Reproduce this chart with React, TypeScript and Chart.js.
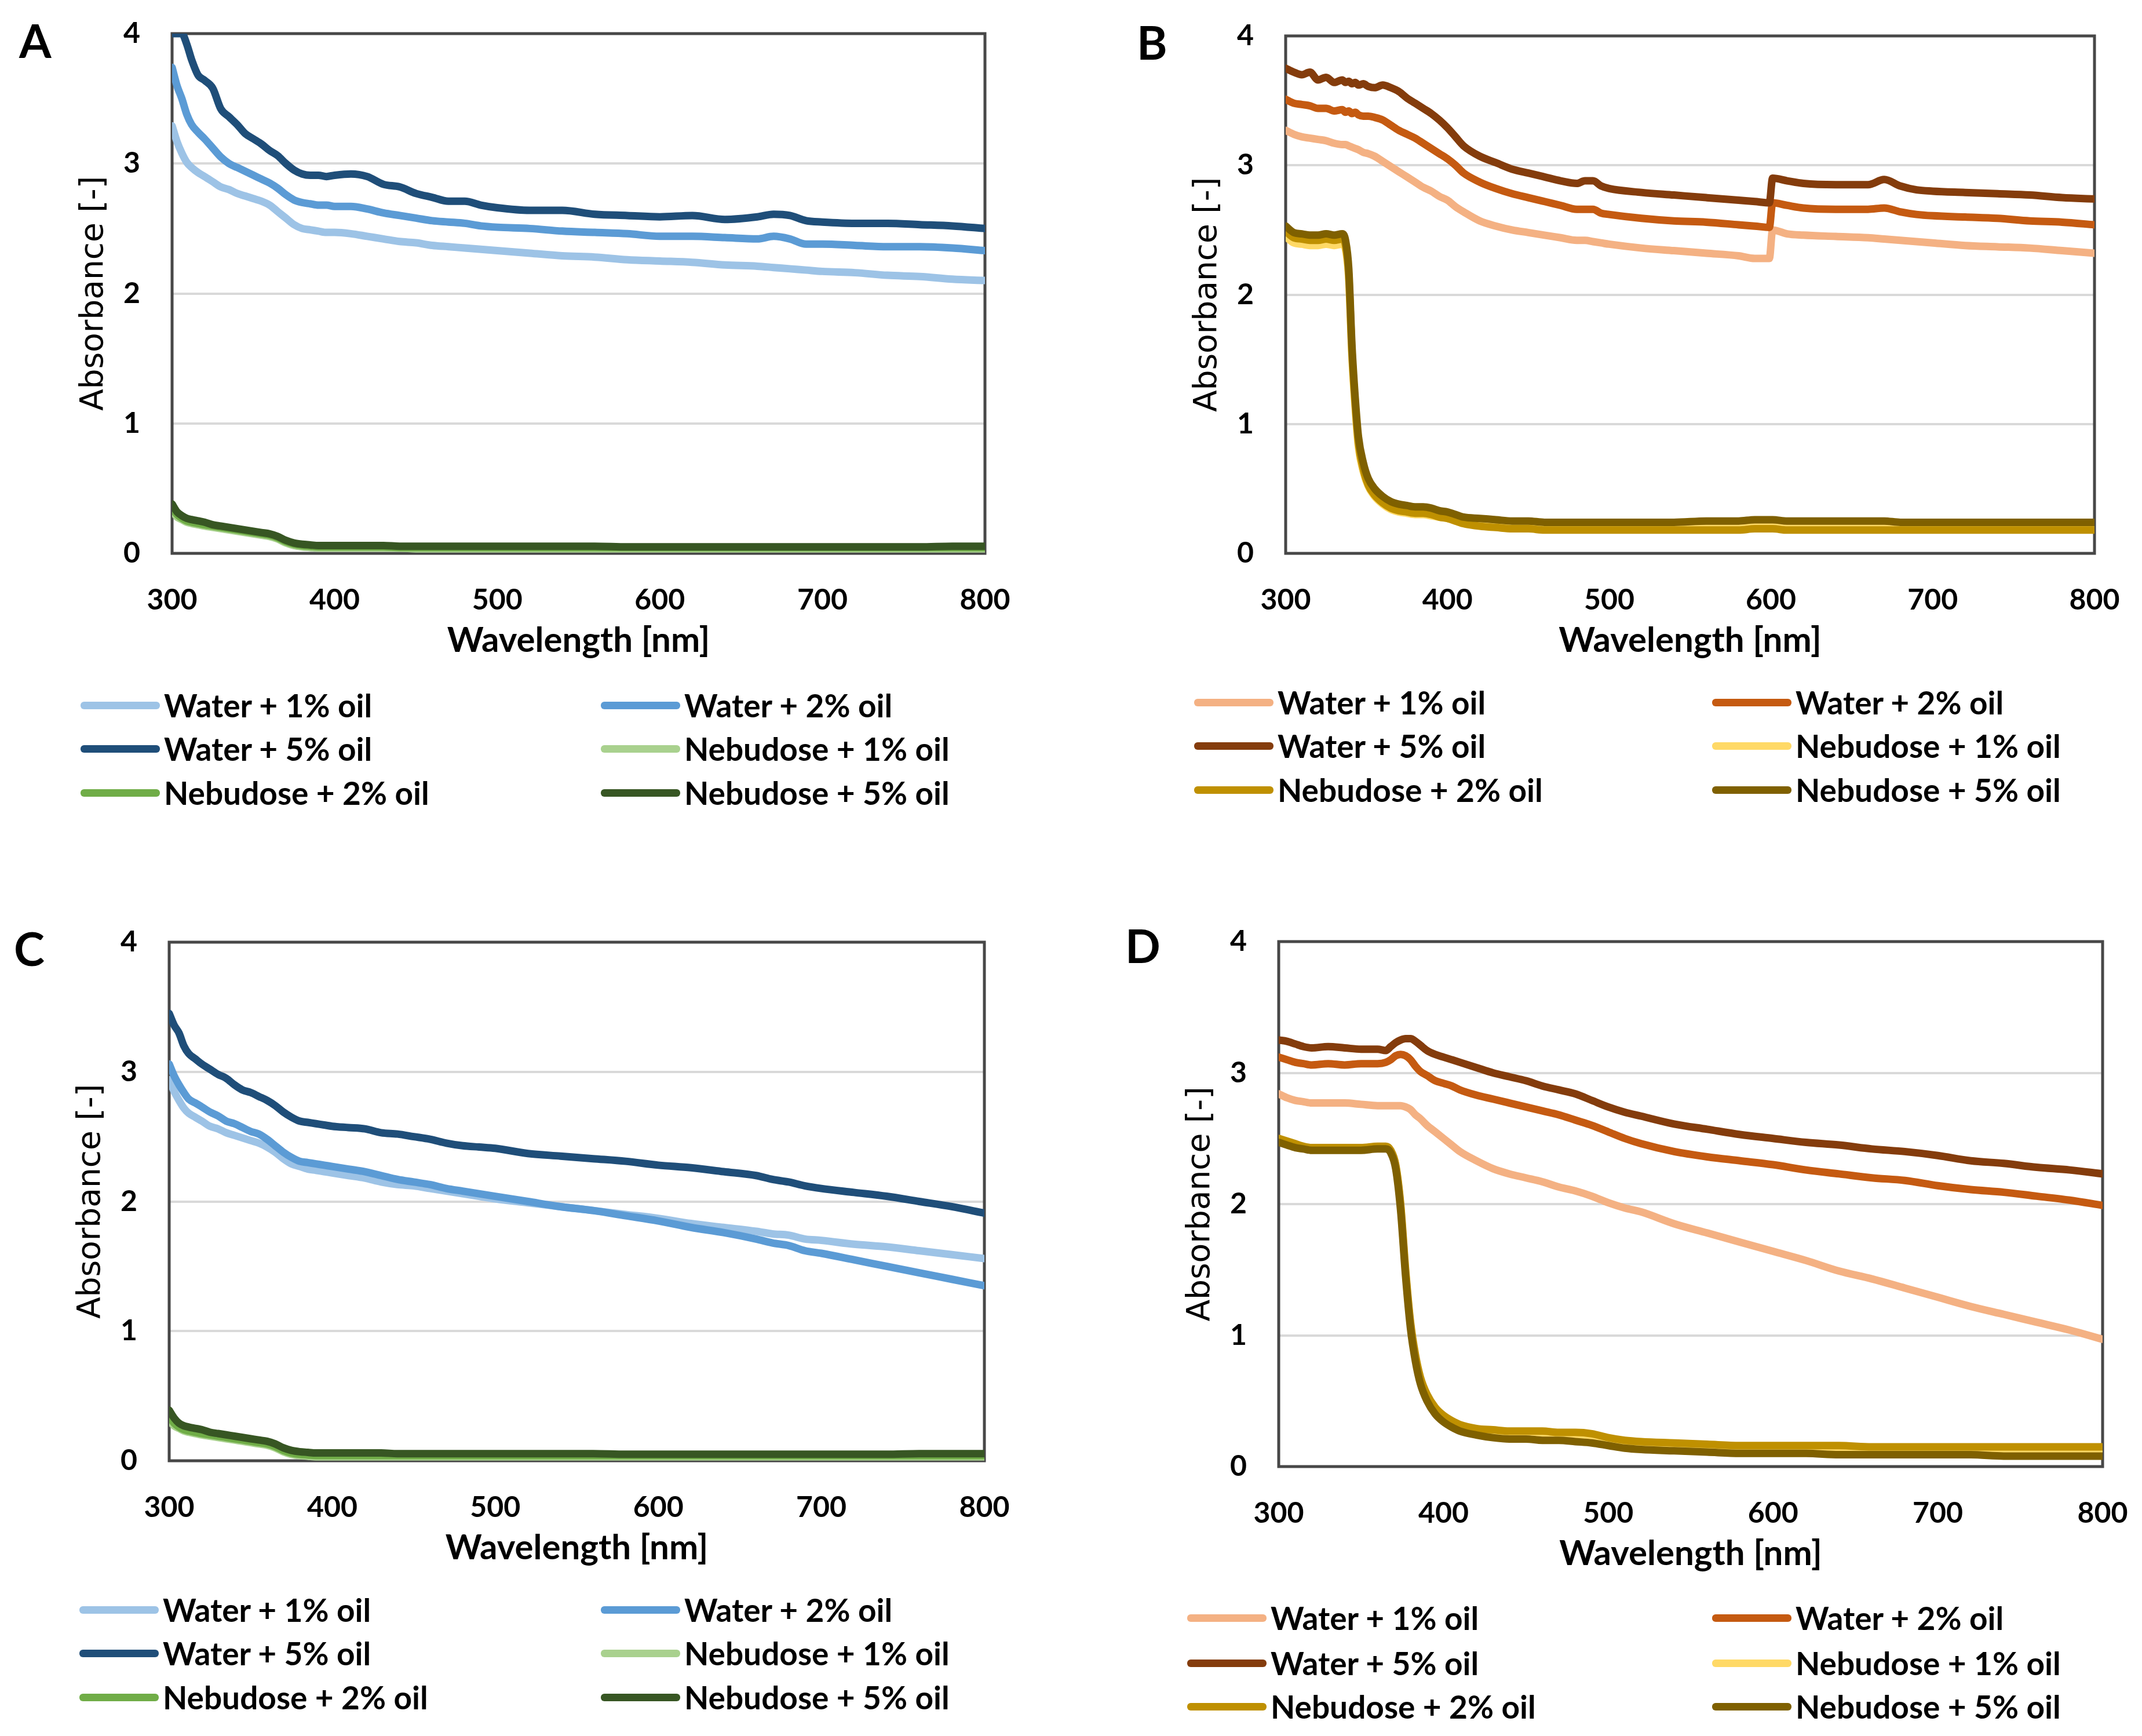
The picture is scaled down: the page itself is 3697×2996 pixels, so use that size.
import React, { useEffect, useRef } from "react";
import { Chart, registerables } from "chart.js";
Chart.register(...registerables);

// ---------- shared text ----------
const SERIES_LABELS = [
  "Water + 1% oil",
  "Water + 2% oil",
  "Water + 5% oil",
  "Nebudose + 1% oil",
  "Nebudose + 2% oil",
  "Nebudose + 5% oil",
];
const X_TITLE = "Wavelength [nm]";
const Y_TITLE = "Absorbance [-]";
const X_MIN = 300;
const X_MAX = 800;
const X_STEP = 100;
const Y_MIN = 0;
const Y_MAX = 4;
const Y_STEP = 1;

const BLUE_GREEN = ["#9dc3e6", "#5b9bd5", "#1f4e79", "#a9d18e", "#70ad47", "#375623"];
const ORANGE_GOLD = ["#f4b183", "#c55a11", "#843c0c", "#ffd966", "#bf9000", "#7f6000"];

// ---------- panels A & C wavelengths ----------
const WL_AC = [300, 303, 306, 309, 312, 316, 320, 325, 330, 335, 340, 345, 350, 355, 360, 365, 370, 375, 380, 385, 390, 395, 400, 410, 420, 430, 440, 450, 460, 470, 480, 490, 500, 520, 540, 560, 580, 600, 620, 640, 660, 670, 680, 690, 700, 720, 740, 760, 780, 800];

// Panel A
const A_WATER_1 = [3.29, 3.17, 3.08, 3.01, 2.97, 2.93, 2.9, 2.86, 2.82, 2.8, 2.77, 2.75, 2.73, 2.71, 2.68, 2.63, 2.58, 2.53, 2.5, 2.49, 2.48, 2.47, 2.47, 2.46, 2.44, 2.42, 2.4, 2.39, 2.37, 2.36, 2.35, 2.34, 2.33, 2.31, 2.29, 2.28, 2.26, 2.25, 2.24, 2.22, 2.21, 2.2, 2.19, 2.18, 2.17, 2.16, 2.14, 2.13, 2.11, 2.1];
const A_WATER_2 = [3.74, 3.6, 3.5, 3.38, 3.3, 3.24, 3.19, 3.12, 3.05, 3.0, 2.97, 2.94, 2.91, 2.88, 2.85, 2.81, 2.76, 2.72, 2.7, 2.69, 2.68, 2.68, 2.67, 2.67, 2.65, 2.62, 2.6, 2.58, 2.56, 2.55, 2.54, 2.52, 2.51, 2.5, 2.48, 2.47, 2.46, 2.44, 2.44, 2.43, 2.42, 2.44, 2.42, 2.38, 2.38, 2.37, 2.36, 2.36, 2.35, 2.33];
const A_WATER_5 = [4.0, 4.0, 4.0, 3.92, 3.8, 3.68, 3.64, 3.58, 3.42, 3.36, 3.3, 3.23, 3.19, 3.15, 3.1, 3.06, 3.0, 2.95, 2.92, 2.91, 2.91, 2.9, 2.91, 2.92, 2.9, 2.84, 2.82, 2.77, 2.74, 2.71, 2.71, 2.68, 2.66, 2.64, 2.64, 2.61, 2.6, 2.59, 2.6, 2.57, 2.59, 2.61, 2.6, 2.56, 2.55, 2.54, 2.54, 2.53, 2.52, 2.5];
const A_NEB_1 = [0.33, 0.28, 0.26, 0.24, 0.23, 0.22, 0.21, 0.2, 0.19, 0.18, 0.17, 0.16, 0.15, 0.14, 0.13, 0.11, 0.08, 0.06, 0.05, 0.045, 0.04, 0.04, 0.04, 0.04, 0.04, 0.04, 0.04, 0.035, 0.035, 0.035, 0.035, 0.035, 0.035, 0.035, 0.035, 0.035, 0.035, 0.035, 0.035, 0.035, 0.035, 0.035, 0.035, 0.035, 0.035, 0.035, 0.035, 0.035, 0.035, 0.035];
const A_NEB_2 = [0.35, 0.3, 0.27, 0.25, 0.24, 0.23, 0.22, 0.21, 0.2, 0.19, 0.18, 0.17, 0.16, 0.15, 0.14, 0.12, 0.09, 0.07, 0.06, 0.055, 0.05, 0.05, 0.05, 0.05, 0.05, 0.05, 0.045, 0.045, 0.045, 0.045, 0.045, 0.045, 0.045, 0.045, 0.045, 0.045, 0.045, 0.045, 0.045, 0.045, 0.045, 0.045, 0.045, 0.045, 0.045, 0.045, 0.045, 0.045, 0.045, 0.045];
const A_NEB_5 = [0.38, 0.32, 0.29, 0.27, 0.26, 0.25, 0.24, 0.22, 0.21, 0.2, 0.19, 0.18, 0.17, 0.16, 0.15, 0.13, 0.1, 0.08, 0.07, 0.065, 0.06, 0.06, 0.06, 0.06, 0.06, 0.06, 0.055, 0.055, 0.055, 0.055, 0.055, 0.055, 0.055, 0.055, 0.055, 0.055, 0.05, 0.05, 0.05, 0.05, 0.05, 0.05, 0.05, 0.05, 0.05, 0.05, 0.05, 0.05, 0.055, 0.055];

// Panel C
const C_WATER_1 = [2.94, 2.85, 2.78, 2.72, 2.68, 2.65, 2.62, 2.58, 2.56, 2.53, 2.51, 2.49, 2.47, 2.45, 2.42, 2.38, 2.33, 2.29, 2.27, 2.25, 2.24, 2.23, 2.22, 2.2, 2.18, 2.15, 2.13, 2.12, 2.1, 2.08, 2.06, 2.04, 2.02, 1.99, 1.96, 1.93, 1.9, 1.87, 1.83, 1.8, 1.77, 1.75, 1.74, 1.71, 1.7, 1.67, 1.65, 1.62, 1.59, 1.56];
const C_WATER_2 = [3.06, 2.97, 2.9, 2.84, 2.79, 2.76, 2.73, 2.69, 2.66, 2.62, 2.6, 2.57, 2.54, 2.52, 2.48, 2.43, 2.38, 2.34, 2.31, 2.3, 2.29, 2.28, 2.27, 2.25, 2.23, 2.2, 2.17, 2.15, 2.13, 2.1, 2.08, 2.06, 2.04, 2.0, 1.96, 1.93, 1.89, 1.85, 1.8, 1.76, 1.71, 1.68, 1.66, 1.62, 1.6, 1.55, 1.5, 1.45, 1.4, 1.35];
const C_WATER_5 = [3.45, 3.36, 3.3, 3.2, 3.14, 3.1, 3.06, 3.02, 2.98, 2.95, 2.9, 2.86, 2.84, 2.81, 2.78, 2.74, 2.69, 2.65, 2.62, 2.61, 2.6, 2.59, 2.58, 2.57, 2.56, 2.53, 2.52, 2.5, 2.48, 2.45, 2.43, 2.42, 2.41, 2.37, 2.35, 2.33, 2.31, 2.28, 2.26, 2.23, 2.2, 2.17, 2.15, 2.12, 2.1, 2.07, 2.04, 2.0, 1.96, 1.91];
const C_NEB_1 = [0.31, 0.27, 0.25, 0.23, 0.22, 0.21, 0.2, 0.19, 0.18, 0.17, 0.16, 0.15, 0.14, 0.13, 0.12, 0.1, 0.07, 0.05, 0.04, 0.035, 0.03, 0.03, 0.03, 0.03, 0.03, 0.03, 0.03, 0.03, 0.03, 0.03, 0.03, 0.03, 0.03, 0.03, 0.03, 0.03, 0.03, 0.03, 0.03, 0.03, 0.03, 0.03, 0.03, 0.03, 0.03, 0.03, 0.03, 0.03, 0.03, 0.03];
const C_NEB_2 = [0.34, 0.29, 0.26, 0.24, 0.23, 0.22, 0.21, 0.2, 0.19, 0.18, 0.17, 0.16, 0.15, 0.14, 0.13, 0.11, 0.08, 0.06, 0.05, 0.045, 0.04, 0.04, 0.04, 0.04, 0.04, 0.04, 0.04, 0.04, 0.04, 0.04, 0.04, 0.04, 0.04, 0.04, 0.04, 0.04, 0.04, 0.04, 0.04, 0.04, 0.04, 0.04, 0.04, 0.04, 0.04, 0.04, 0.04, 0.04, 0.04, 0.04];
const C_NEB_5 = [0.39, 0.33, 0.29, 0.27, 0.26, 0.25, 0.24, 0.22, 0.21, 0.2, 0.19, 0.18, 0.17, 0.16, 0.15, 0.13, 0.1, 0.08, 0.07, 0.065, 0.06, 0.06, 0.06, 0.06, 0.06, 0.06, 0.055, 0.055, 0.055, 0.055, 0.055, 0.055, 0.055, 0.055, 0.055, 0.055, 0.05, 0.05, 0.05, 0.05, 0.05, 0.05, 0.05, 0.05, 0.05, 0.05, 0.05, 0.055, 0.055, 0.055];

// ---------- panel B ----------
const WL_B = [300, 305, 310, 315, 320, 325, 330, 335, 337, 339, 341, 343, 345, 348, 351, 355, 360, 365, 370, 375, 380, 385, 390, 395, 400, 405, 410, 420, 430, 440, 450, 460, 470, 480, 485, 490, 495, 500, 520, 540, 560, 580, 590, 599, 601, 610, 620, 640, 660, 670, 680, 690, 700, 720, 740, 760, 780, 800];
const B_WATER_1 = [3.27, 3.24, 3.22, 3.21, 3.2, 3.19, 3.17, 3.16, 3.16, 3.15, 3.14, 3.13, 3.12, 3.1, 3.09, 3.07, 3.03, 2.99, 2.95, 2.91, 2.87, 2.83, 2.8, 2.76, 2.73, 2.68, 2.64, 2.57, 2.53, 2.5, 2.48, 2.46, 2.44, 2.42, 2.42, 2.41, 2.4, 2.39, 2.36, 2.34, 2.32, 2.3, 2.28, 2.28, 2.5, 2.47, 2.46, 2.45, 2.44, 2.43, 2.42, 2.41, 2.4, 2.38, 2.37, 2.36, 2.34, 2.32];
const B_WATER_2 = [3.51, 3.48, 3.47, 3.46, 3.44, 3.44, 3.42, 3.43, 3.41, 3.42, 3.4, 3.41, 3.39, 3.38, 3.38, 3.37, 3.35, 3.31, 3.27, 3.24, 3.21, 3.17, 3.13, 3.09, 3.05, 3.0, 2.94, 2.87, 2.82, 2.78, 2.75, 2.72, 2.69, 2.66, 2.66, 2.66, 2.63, 2.62, 2.59, 2.57, 2.56, 2.54, 2.53, 2.52, 2.71, 2.69, 2.67, 2.66, 2.66, 2.67, 2.64, 2.62, 2.61, 2.6, 2.59, 2.57, 2.56, 2.54];
const B_WATER_5 = [3.75, 3.72, 3.7, 3.72, 3.66, 3.68, 3.64, 3.66, 3.64, 3.65, 3.63, 3.64, 3.62, 3.63, 3.61, 3.6, 3.62, 3.6, 3.57, 3.52, 3.48, 3.44, 3.4, 3.35, 3.29, 3.22, 3.15, 3.07, 3.02, 2.97, 2.94, 2.91, 2.88, 2.86, 2.88, 2.88, 2.84, 2.82, 2.79, 2.77, 2.75, 2.73, 2.72, 2.71, 2.9, 2.88, 2.86, 2.85, 2.85, 2.89, 2.84, 2.81, 2.8, 2.79, 2.78, 2.77, 2.75, 2.74];
const B_NEB_1 = [2.45, 2.4, 2.39, 2.38, 2.38, 2.39, 2.38, 2.39, 2.35, 2.12, 1.52, 1.12, 0.82, 0.63, 0.52, 0.44, 0.38, 0.34, 0.32, 0.31, 0.3, 0.3, 0.29, 0.28, 0.27, 0.25, 0.23, 0.22, 0.21, 0.21, 0.2, 0.2, 0.2, 0.2, 0.2, 0.2, 0.2, 0.2, 0.2, 0.2, 0.21, 0.21, 0.21, 0.21, 0.21, 0.21, 0.21, 0.21, 0.21, 0.21, 0.2, 0.2, 0.2, 0.2, 0.2, 0.2, 0.2, 0.2];
const B_NEB_2 = [2.49, 2.44, 2.43, 2.42, 2.42, 2.43, 2.42, 2.43, 2.38, 2.15, 1.55, 1.15, 0.85, 0.65, 0.53, 0.45, 0.39, 0.35, 0.33, 0.32, 0.31, 0.31, 0.3, 0.28, 0.27, 0.25, 0.23, 0.21, 0.2, 0.19, 0.19, 0.18, 0.18, 0.18, 0.18, 0.18, 0.18, 0.18, 0.18, 0.18, 0.18, 0.18, 0.19, 0.19, 0.19, 0.18, 0.18, 0.18, 0.18, 0.18, 0.18, 0.18, 0.18, 0.18, 0.18, 0.18, 0.18, 0.18];
const B_NEB_5 = [2.53, 2.48, 2.47, 2.46, 2.46, 2.47, 2.46, 2.47, 2.42, 2.2, 1.6, 1.2, 0.9, 0.7, 0.58, 0.5, 0.44, 0.4, 0.38, 0.37, 0.36, 0.36, 0.35, 0.33, 0.32, 0.3, 0.28, 0.27, 0.26, 0.25, 0.25, 0.24, 0.24, 0.24, 0.24, 0.24, 0.24, 0.24, 0.24, 0.24, 0.25, 0.25, 0.26, 0.26, 0.26, 0.25, 0.25, 0.25, 0.25, 0.25, 0.24, 0.24, 0.24, 0.24, 0.24, 0.24, 0.24, 0.24];

// ---------- panel D ----------
const WL_D = [300, 305, 310, 315, 320, 330, 340, 350, 360, 365, 368, 371, 374, 377, 380, 383, 386, 390, 395, 400, 405, 410, 420, 430, 440, 450, 460, 470, 480, 490, 500, 510, 520, 540, 560, 580, 600, 620, 640, 660, 680, 700, 720, 740, 760, 780, 800];
const D_WATER_1 = [2.84, 2.81, 2.79, 2.78, 2.77, 2.77, 2.77, 2.76, 2.75, 2.75, 2.75, 2.75, 2.75, 2.74, 2.72, 2.68, 2.65, 2.6, 2.55, 2.5, 2.45, 2.4, 2.33, 2.27, 2.23, 2.2, 2.17, 2.13, 2.1, 2.06, 2.01, 1.97, 1.94, 1.85, 1.78, 1.71, 1.64, 1.57, 1.49, 1.43, 1.36, 1.29, 1.22, 1.16, 1.1, 1.04, 0.97];
const D_WATER_2 = [3.12, 3.1, 3.08, 3.07, 3.06, 3.07, 3.06, 3.07, 3.07, 3.08, 3.1, 3.13, 3.14, 3.13, 3.1, 3.05, 3.01, 2.98, 2.94, 2.92, 2.9, 2.87, 2.83, 2.8, 2.77, 2.74, 2.71, 2.68, 2.64, 2.6, 2.55, 2.5, 2.46, 2.4, 2.36, 2.33, 2.3, 2.26, 2.23, 2.2, 2.18, 2.14, 2.11, 2.09, 2.06, 2.03, 1.99];
const D_WATER_5 = [3.25, 3.24, 3.22, 3.2, 3.19, 3.2, 3.19, 3.18, 3.18, 3.17, 3.2, 3.23, 3.25, 3.26, 3.26, 3.24, 3.21, 3.17, 3.14, 3.12, 3.1, 3.08, 3.04, 3.0, 2.97, 2.94, 2.9, 2.87, 2.84, 2.79, 2.74, 2.7, 2.67, 2.61, 2.57, 2.53, 2.5, 2.47, 2.45, 2.42, 2.4, 2.37, 2.33, 2.31, 2.28, 2.26, 2.23];
const D_NEB_1 = [2.48, 2.46, 2.44, 2.43, 2.42, 2.42, 2.42, 2.42, 2.43, 2.43, 2.4, 2.29, 1.98, 1.48, 1.08, 0.83, 0.66, 0.53, 0.43, 0.37, 0.33, 0.3, 0.27, 0.26, 0.25, 0.25, 0.25, 0.24, 0.24, 0.23, 0.2, 0.18, 0.17, 0.16, 0.15, 0.14, 0.14, 0.14, 0.14, 0.13, 0.13, 0.13, 0.13, 0.13, 0.13, 0.13, 0.13];
const D_NEB_2 = [2.5, 2.48, 2.46, 2.44, 2.43, 2.43, 2.43, 2.43, 2.44, 2.44, 2.41, 2.3, 2.0, 1.5, 1.1, 0.85, 0.68, 0.55, 0.45, 0.39, 0.35, 0.32, 0.29, 0.28, 0.27, 0.27, 0.27, 0.26, 0.26, 0.25, 0.22, 0.2, 0.19, 0.18, 0.17, 0.16, 0.16, 0.16, 0.16, 0.15, 0.15, 0.15, 0.15, 0.15, 0.15, 0.15, 0.15];
const D_NEB_5 = [2.47, 2.45, 2.43, 2.42, 2.41, 2.41, 2.41, 2.41, 2.42, 2.42, 2.39, 2.27, 1.95, 1.45, 1.05, 0.8, 0.63, 0.5, 0.4, 0.34, 0.3, 0.27, 0.24, 0.22, 0.21, 0.21, 0.2, 0.2, 0.19, 0.18, 0.16, 0.14, 0.13, 0.12, 0.11, 0.1, 0.1, 0.1, 0.09, 0.09, 0.09, 0.09, 0.09, 0.08, 0.08, 0.08, 0.08];

// ---------- layout (page pixels) ----------
type Box = { l: number; t: number; r: number; b: number };
type PanelCfg = {
  letter: string;
  letterX: number;
  letterCapTop: number;
  plot: Box;
  rows: number[];
  cols: number[];
  wl: number[];
  series: number[][];
  colors: string[];
};

const PANELS: PanelCfg[] = [
  {
    letter: "A", letterX: 33, letterCapTop: 43,
    plot: { l: 297, t: 58, r: 1700, b: 955 },
    rows: [1217, 1292, 1368], cols: [139, 1037],
    wl: WL_AC, series: [A_WATER_1, A_WATER_2, A_WATER_5, A_NEB_1, A_NEB_2, A_NEB_5], colors: BLUE_GREEN,
  },
  {
    letter: "B", letterX: 1962, letterCapTop: 46,
    plot: { l: 2219, t: 62, r: 3615, b: 955 },
    rows: [1212, 1287, 1363], cols: [2061, 2955],
    wl: WL_B, series: [B_WATER_1, B_WATER_2, B_WATER_5, B_NEB_1, B_NEB_2, B_NEB_5], colors: ORANGE_GOLD,
  },
  {
    letter: "C", letterX: 24, letterCapTop: 1610,
    plot: { l: 292, t: 1626, r: 1699, b: 2521 },
    rows: [2778, 2853, 2929], cols: [137, 1037],
    wl: WL_AC, series: [C_WATER_1, C_WATER_2, C_WATER_5, C_NEB_1, C_NEB_2, C_NEB_5], colors: BLUE_GREEN,
  },
  {
    letter: "D", letterX: 1942, letterCapTop: 1605,
    plot: { l: 2207, t: 1625, r: 3629, b: 2531 },
    rows: [2792, 2870, 2945], cols: [2049, 2955],
    wl: WL_D, series: [D_WATER_1, D_WATER_2, D_WATER_5, D_NEB_1, D_NEB_2, D_NEB_5], colors: ORANGE_GOLD,
  },
];

const PAD_L = 300; // y-axis box width
const PAD_T = 110;
const PAD_R = 110;
const PAD_B = 200; // x-axis box height
const TEXT_FONT = "Lato";

const framePlugin = {
  id: "frame",
  beforeDatasetsDraw(chart: any) {
    const { ctx, chartArea } = chart;
    ctx.save();
    ctx.strokeStyle = "#474747";
    ctx.lineWidth = 5;
    ctx.strokeRect(chartArea.left, chartArea.top, chartArea.right - chartArea.left, chartArea.bottom - chartArea.top);
    ctx.restore();
  },
};

function Panel({ cfg }: { cfg: PanelCfg }) {
  const ref = useRef<HTMLCanvasElement | null>(null);
  const w = cfg.plot.r - cfg.plot.l + PAD_L + PAD_R;
  const h = cfg.plot.b - cfg.plot.t + PAD_T + PAD_B;

  useEffect(() => {
    if (!ref.current) return;
    const datasets = cfg.series.map((vals, i) => ({
      label: SERIES_LABELS[i],
      data: cfg.wl.map((x, j) => ({ x, y: vals[j] })),
      borderColor: cfg.colors[i],
      backgroundColor: cfg.colors[i],
      borderWidth: 13,
      pointRadius: 0,
      fill: false,
      cubicInterpolationMode: "monotone" as const,
      borderCapStyle: "round" as const,
      borderJoinStyle: "round" as const,
      order: -i,
      clip: 0,
    }));
    const chart = new Chart(ref.current, {
      type: "line",
      data: { datasets },
      options: {
        animation: false,
        responsive: false,
        devicePixelRatio: 1,
        layout: { padding: { left: 0, top: PAD_T, right: PAD_R, bottom: 0 } },
        plugins: { legend: { display: false }, tooltip: { enabled: false } },
        scales: {
          x: {
            type: "linear",
            min: X_MIN,
            max: X_MAX,
            ticks: { stepSize: X_STEP, color: "#000", padding: 51, font: { family: TEXT_FONT, size: 50, weight: "bold" } },
            grid: { display: false, drawTicks: false },
            border: { display: false },
            title: {
              display: true, text: X_TITLE, color: "#000",
              font: { family: TEXT_FONT, size: 60, weight: "bold" },
              padding: { top: 0, bottom: 13 },
            },
            afterFit: (s: any) => { s.height = PAD_B; },
          },
          y: {
            type: "linear",
            min: Y_MIN,
            max: Y_MAX,
            ticks: { stepSize: Y_STEP, color: "#000", padding: 55, font: { family: TEXT_FONT, size: 50, weight: "bold" } },
            grid: { color: "#d9d9d9", lineWidth: 4, drawTicks: false },
            border: { display: false },
            title: {
              display: true, text: Y_TITLE, color: "#000",
              font: { family: "'DejaVu Sans'", size: 55, weight: "normal" },
              padding: { top: 133, bottom: 0 },
            },
            afterFit: (s: any) => { s.width = PAD_L; },
          },
        },
      },
      plugins: [framePlugin],
    } as any);
    return () => chart.destroy();
  }, [cfg]);

  const colL = cfg.cols;
  return (
    <>
      <canvas
        ref={ref}
        width={w}
        height={h}
        style={{ position: "absolute", left: cfg.plot.l - PAD_L, top: cfg.plot.t - PAD_T, width: w, height: h }}
      />
      <div
        style={{
          position: "absolute", left: cfg.letterX, top: cfg.letterCapTop - 14,
          fontFamily: TEXT_FONT, fontWeight: 700, fontSize: 80, lineHeight: "80px", color: "#000",
        }}
      >
        {cfg.letter}
      </div>
      {SERIES_LABELS.map((lab, i) => {
        const row = Math.floor(i / 2);
        const col = i % 2;
        return (
          <div
            key={lab}
            style={{
              position: "absolute", left: colL[col], top: cfg.rows[row] - 40, height: 80,
              display: "flex", alignItems: "center", whiteSpace: "nowrap",
            }}
          >
            <div style={{ width: 137, height: 13, borderRadius: 6, background: cfg.colors[i] }} />
            <span style={{ marginLeft: 7, fontFamily: TEXT_FONT, fontWeight: 700, fontSize: 55, color: "#000", lineHeight: "80px" }}>
              {lab}
            </span>
          </div>
        );
      })}
    </>
  );
}

export default function App() {
  return (
    <div style={{ position: "absolute", left: 0, top: 0, width: 3697, height: 2996, background: "#fff", overflow: "hidden" }}>
      {PANELS.map((p) => (
        <Panel key={p.letter} cfg={p} />
      ))}
    </div>
  );
}
